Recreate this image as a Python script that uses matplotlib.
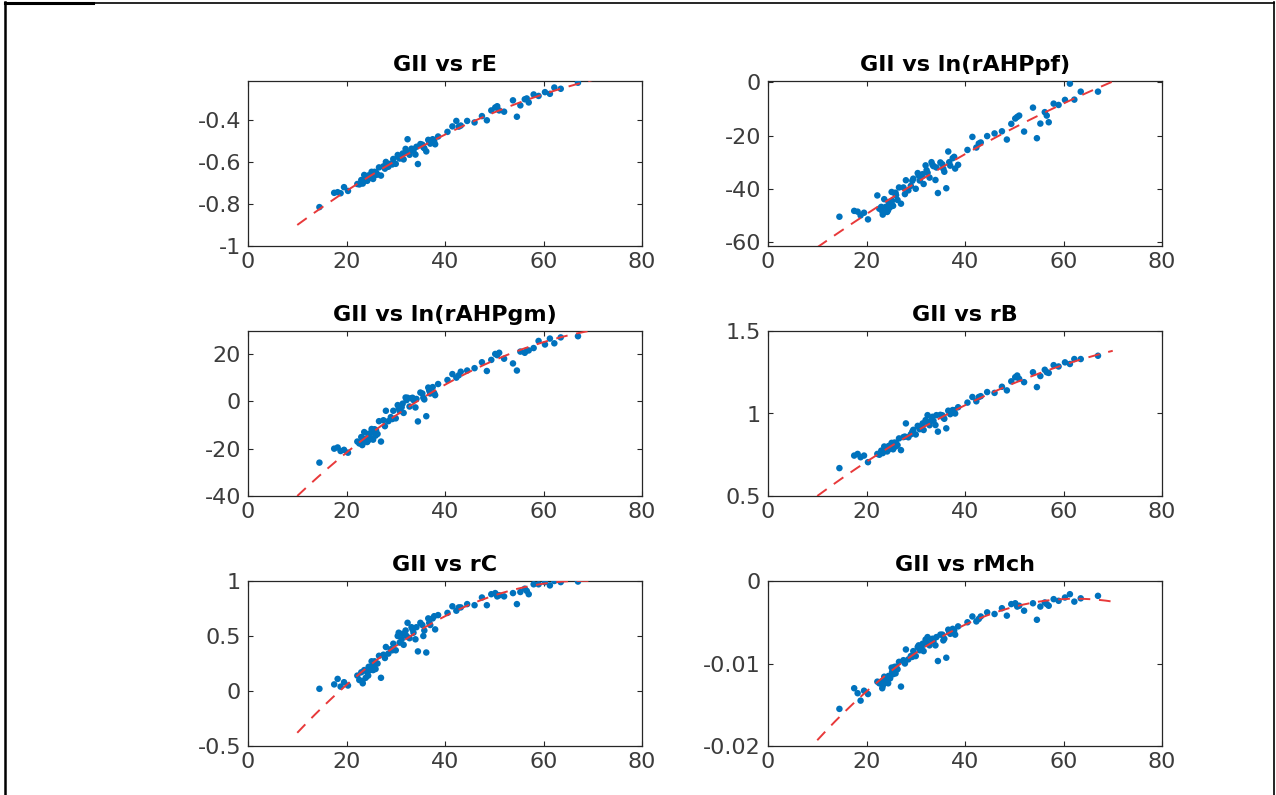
import numpy as np
import matplotlib
matplotlib.use("Agg")
import matplotlib.pyplot as plt
from matplotlib.lines import Line2D
from matplotlib.ticker import FuncFormatter

plt.rcParams['font.family'] = ['DejaVu Sans']
plt.rcParams['axes.unicode_minus'] = False

# shared x values (same samples in every panel)
x = [14.5, 17.5, 18.2, 18.8, 19.5, 20.3, 22.2, 22.6, 23.0, 23.3, 23.6, 23.9, 24.2, 24.5, 24.8,
     25.1, 25.4, 25.7, 26.0, 26.3, 26.6, 27.0, 27.5, 28.0, 28.5, 29.0, 29.5, 30.0, 30.4, 30.8,
     31.2, 31.6, 32.0, 32.4, 32.8, 33.2, 33.6, 34.0, 34.5, 35.0, 35.4, 35.8, 36.2, 36.6, 37.0,
     37.5, 38.0, 38.6, 40.5, 41.5, 42.3, 43.2, 44.5, 46.0, 47.5, 48.5, 49.4, 50.2, 51.0, 52.0,
     53.8, 54.6, 55.3, 56.2, 57.0, 58.0, 59.0, 60.3, 61.3, 62.2, 63.5, 67.0,
     23.2, 24.4, 25.2, 25.9, 27.8, 29.3, 30.6, 31.4, 32.2, 33.4, 34.2, 35.6, 36.8, 37.8, 42.8,
     50.6, 56.6]

y_rE = [-0.815, -0.747, -0.744, -0.749, -0.720, -0.738, -0.705, -0.707, -0.686, -0.703, -0.662,
        -0.680, -0.690, -0.664, -0.675, -0.647, -0.681, -0.647, -0.650, -0.660, -0.626, -0.665,
        -0.621, -0.600, -0.623, -0.608, -0.586, -0.609, -0.567, -0.584, -0.571, -0.588, -0.538,
        -0.492, -0.566, -0.537, -0.547, -0.565, -0.610, -0.515, -0.518, -0.535, -0.550, -0.495,
        -0.513, -0.492, -0.516, -0.479, -0.457, -0.431, -0.405, -0.427, -0.405, -0.412, -0.382,
        -0.402, -0.355, -0.341, -0.355, -0.361, -0.307, -0.385, -0.331, -0.302, -0.317, -0.279,
        -0.286, -0.268, -0.276, -0.246, -0.252, -0.223,
        -0.698, -0.680, -0.655, -0.662, -0.632, -0.612, -0.578, -0.560, -0.552, -0.540, -0.528,
        -0.530, -0.505, -0.500, -0.432, -0.335, -0.298]

y_pf = [-50.5, -48.3, -48.6, -50.0, -49.0, -51.5, -42.5, -47.5, -46.8, -49.7, -43.9, -46.8,
        -48.7, -45.0, -46.9, -41.2, -46.4, -41.6, -42.4, -44.2, -39.5, -45.6, -39.5, -36.8,
        -40.6, -38.9, -36.2, -40.0, -34.1, -36.9, -35.4, -38.2, -31.2, -34.0, -35.8, -30.0,
        -31.5, -36.7, -41.6, -30.1, -30.8, -33.6, -39.8, -26.0, -31.3, -28.5, -32.4, -31.0,
        -25.4, -20.5, -24.5, -22.6, -20.2, -19.2, -18.4, -21.5, -15.6, -13.6, -12.5, -18.5,
        -9.5, -21.0, -15.5, -11.2, -15.0, -8.0, -8.5, -6.6, -0.5, -6.5, -3.5, -3.5,
        -48.5, -48.0, -44.5, -41.5, -42.0, -37.0, -35.0, -34.5, -33.0, -31.0, -32.0, -32.5,
        -30.0, -28.0, -23.0, -13.0, -12.5]

y_gm = [-25.9, -20.0, -19.5, -21.0, -20.5, -21.7, -17.0, -17.8, -15.1, -17.6, -13.0, -15.7,
        -17.2, -13.7, -15.2, -11.7, -16.2, -11.8, -12.3, -13.8, -8.4, -17.0, -8.0, -4.0, -8.4,
        -6.7, -4.0, -7.2, -1.6, -4.1, -2.5, -4.9, 1.6, 1.5, -2.2, 1.3, 0.5, -2.6, -8.5, 3.7,
        3.3, 0.8, -6.3, 5.8, 3.3, 6.0, 2.6, 7.3, 9.0, 11.5, 10.0, 12.5, 13.0, 14.0, 16.5, 12.8,
        17.5, 20.0, 20.5, 18.0, 16.0, 13.0, 21.0, 20.5, 21.5, 22.5, 25.5, 24.0, 26.5, 24.5,
        27.0, 27.5,
        -18.5, -16.5, -13.0, -14.5, -10.5, -7.5, -3.0, -1.0, 0.5, 1.5, 1.0, 1.5, 4.5, 3.5,
        11.0, 19.5, 21.5]

y_rB = [0.669, 0.745, 0.755, 0.735, 0.745, 0.705, 0.755, 0.750, 0.775, 0.760, 0.800, 0.782,
        0.770, 0.803, 0.790, 0.822, 0.783, 0.824, 0.821, 0.808, 0.849, 0.778, 0.857, 0.940,
        0.856, 0.874, 0.901, 0.873, 0.925, 0.905, 0.921, 0.900, 0.960, 0.990, 0.929, 0.962,
        0.955, 0.930, 0.890, 0.992, 0.989, 0.968, 0.910, 1.017, 0.996, 1.021, 1.000, 1.038,
        1.066, 1.100, 1.074, 1.105, 1.130, 1.125, 1.162, 1.140, 1.195, 1.220, 1.210, 1.190,
        1.250, 1.160, 1.227, 1.265, 1.246, 1.293, 1.285, 1.310, 1.300, 1.330, 1.330, 1.350,
        0.765, 0.780, 0.810, 0.800, 0.860, 0.890, 0.920, 0.940, 0.950, 0.980, 0.990, 0.975,
        1.010, 1.020, 1.100, 1.230, 1.250]

y_rC = [0.02, 0.06, 0.11, 0.04, 0.08, 0.05, 0.14, 0.10, 0.17, 0.07, 0.19, 0.12, 0.17, 0.22,
        0.19, 0.27, 0.19, 0.27, 0.25, 0.25, 0.32, 0.12, 0.33, 0.40, 0.34, 0.38, 0.43, 0.37,
        0.50, 0.44, 0.47, 0.42, 0.55, 0.62, 0.48, 0.58, 0.53, 0.47, 0.36, 0.62, 0.60, 0.55,
        0.35, 0.66, 0.60, 0.66, 0.56, 0.69, 0.71, 0.77, 0.73, 0.76, 0.79, 0.78, 0.85, 0.78,
        0.88, 0.89, 0.87, 0.86, 0.89, 0.79, 0.90, 0.93, 0.88, 0.97, 0.97, 0.99, 0.96, 1.00,
        0.99, 0.995,
        0.09, 0.14, 0.22, 0.20, 0.30, 0.37, 0.53, 0.52, 0.50, 0.56, 0.58, 0.50, 0.62, 0.68,
        0.76, 0.86, 0.91]

y_Mch = [-0.0155, -0.0130, -0.0136, -0.0145, -0.0133, -0.0137, -0.0122, -0.0124, -0.0122,
         -0.0127, -0.0116, -0.0120, -0.0123, -0.0115, -0.0118, -0.0105, -0.0113, -0.0104,
         -0.0104, -0.0107, -0.0098, -0.0128, -0.0096, -0.0083, -0.0095, -0.0091, -0.0085,
         -0.0091, -0.0080, -0.0084, -0.0080, -0.0085, -0.0071, -0.0068, -0.0078, -0.0071,
         -0.0073, -0.0078, -0.0097, -0.0065, -0.0065, -0.0070, -0.0093, -0.0059, -0.0064,
         -0.0058, -0.0065, -0.0055, -0.0050, -0.0043, -0.0049, -0.0043, -0.0038, -0.0040,
         -0.0033, -0.0042, -0.0028, -0.0027, -0.0030, -0.0036, -0.0027, -0.0047, -0.0031,
         -0.0026, -0.0030, -0.0022, -0.0024, -0.0020, -0.0016, -0.0025, -0.0021, -0.0018,
         -0.0130, -0.0124, -0.0110, -0.0112, -0.0100, -0.0092, -0.0078, -0.0076, -0.0075,
         -0.0070, -0.0068, -0.0072, -0.0062, -0.0060, -0.0046, -0.0031, -0.0028]

# points (x = 10, 40, 70)
fit_x = [10, 40, 70]
fit_rE = [-0.90, -0.47, -0.21]
fit_pf = [-62.0, -27.0, 0.3]
fit_gm = [-40.0, 7.0, 30.0]
fit_rB = [0.50, 1.05, 1.38]
fit_rC = [-0.38, 0.68, 1.00]
fit_Mch = [-0.0193, -0.0053, -0.0025]

titles = ["GII vs rE", "GII vs ln(rAHPpf)", "GII vs ln(rAHPgm)",
          "GII vs rB", "GII vs rC", "GII vs rMch"]
ys = [y_rE, y_pf, y_gm, y_rB, y_rC, y_Mch]
fits = [fit_rE, fit_pf, fit_gm, fit_rB, fit_rC, fit_Mch]
ylims = [(-1, -0.215), (-61.5, 0.5), (-40, 29.7), (0.5, 1.5), (-0.5, 1.0), (-0.02, 0)]
yticks = [[-1, -0.8, -0.6, -0.4], [-60, -40, -20, 0], [-40, -20, 0, 20],
          [0.5, 1, 1.5], [-0.5, 0, 0.5, 1], [-0.02, -0.01, 0]]

W, H = 1276, 795
fig = plt.figure(figsize=(W / 100, H / 100), dpi=100)

lefts = [248, 768]
tops = [81, 331, 581]
aw, ah = 394, 165

fmt = FuncFormatter(lambda v, p: "%g" % round(v, 6))
xx = np.linspace(10, 70, 200)

for i in range(6):
    r, c = divmod(i, 2)
    ax = fig.add_axes([lefts[c] / W, (H - tops[r] - ah) / H, aw / W, ah / H])
    ax.scatter(x, ys[i], s=22, color="#0072BD", edgecolors="none", zorder=3)
    coef = np.polyfit(fit_x, fits[i], 2)
    ax.plot(xx, np.polyval(coef, xx), color="#E8393A", lw=1.4, dashes=(6, 4.5), zorder=4)
    ax.set_xlim(0, 80)
    ax.set_ylim(*ylims[i])
    ax.set_xticks([0, 20, 40, 60, 80])
    ax.set_yticks(yticks[i])
    ax.yaxis.set_major_formatter(fmt)
    ax.tick_params(direction="in", top=True, right=True, length=3.5, width=0.8,
                   labelsize=16, labelcolor="#3c3c3c", color="#262626")
    ax.tick_params(axis="x", pad=4)
    ax.tick_params(axis="y", pad=5)
    for sp in ax.spines.values():
        sp.set_color("#262626")
        sp.set_linewidth(0.9)
    ax.set_title(titles[i], fontsize=16, fontweight="bold", pad=7)

# page frame
def fl(x0, y0, x1, y1, lw):
    fig.add_artist(Line2D([x0 / W, x1 / W], [1 - y0 / H, 1 - y1 / H], color="black",
                          lw=lw, transform=fig.transFigure))

fl(5, 2.5, 1274, 2.5, 1.2)
fl(5, 2.5, 93, 2.5, 2.2)
fl(5, 2, 5, 795, 1.8)
fl(1274, 2, 1274, 795, 1.2)

fig.savefig("out.png", dpi=100)
